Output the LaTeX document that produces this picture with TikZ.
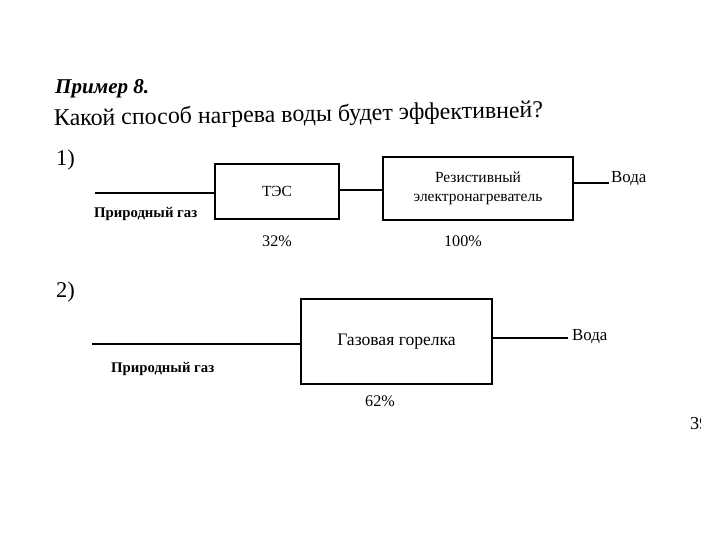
\documentclass[tikz,border=0pt]{standalone}
\usepackage{fontspec}
\setmainfont{Liberation Serif}
\usetikzlibrary{positioning}
\tikzset{every picture/.style={line width=1.6pt}}

\begin{document}
\begin{tikzpicture}[x=0.025cm,y=-0.025cm,
        block/.style={draw, line width=1.6pt, inner sep=0pt, outer sep=0pt, align=center, font=\fontsize{11}{14}\selectfont},
        gas/.style={font=\bfseries\fontsize{10.5}{12}\selectfont, inner sep=0pt},
        note/.style={font=\fontsize{11.5}{13}\selectfont, inner sep=0pt}]
        \useasboundingbox (0,0) rectangle (720,540);

        % heading
        \node[anchor=base west, inner sep=0pt, font=\bfseries\itshape\fontsize{15}{18}\selectfont] (title) at (54,93) {Пример 8.};
        \node[anchor=base west, inner sep=0pt, rotate=1.0, font=\fontsize{17}{20}\selectfont] (question) at (53,126) {Какой способ нагрева воды будет эффективней?};

        % variant 1
        \node[anchor=base west, inner sep=0pt, font=\fontsize{16}{20}\selectfont] (one) at (55,165) {1)};
        \node[block, minimum width=3.1cm, minimum height=1.375cm] (tes) at (277,191.5) {ТЭС};
        \node[block, minimum width=4.75cm, minimum height=1.575cm] (heater) at (478,188.5) {Резистивный\\электронагреватель};
        \coordinate (gasin1) at (95,193);
        \node[gas, anchor=west] (gaslbl1) at (93,214) {Природный газ};
        \node[note, anchor=west, font=\fontsize{12}{14}\selectfont] (water1) at (610,179) {Вода};
        \node[note] (eff1) at (277,241) {32\%};
        \node[note] (eff2) at (463,241) {100\%};

        % variant 2
        \node[anchor=base west, inner sep=0pt, font=\fontsize{16}{20}\selectfont] (two) at (55,297) {2)};
        \node[block, minimum width=4.775cm, minimum height=2.125cm, font=\fontsize{12.5}{14}\selectfont] (burner) at (396.5,341.5) {Газовая горелка};
        \coordinate (gasin2) at (92,344);
        \node[gas, anchor=west] (gaslbl2) at (110,369) {Природный газ};
        \node[note, anchor=west, font=\fontsize{12}{14}\selectfont] (water2) at (571,337) {Вода};
        \node[note] (eff3) at (380,401) {62\%};

        \begin{scope}
            \clip (0,0) rectangle (700,540);
            \node[anchor=west, inner sep=0pt, font=\fontsize{13}{16}\selectfont] (page) at (689,424) {39};
        \end{scope}

        \draw
            (gasin1) -- (gasin1 -| tes.west)
            (tes.east |- 0,190) -- (heater.west |- 0,190)
            (heater.east |- 0,183) -- ([xshift=-1pt]water1.west |- 0,183)
            (gasin2) -- (gasin2 -| burner.west)
            (burner.east |- 0,338) -- ([xshift=-2pt]water2.west |- 0,338)
            ;
    \end{tikzpicture}
\end{document}
